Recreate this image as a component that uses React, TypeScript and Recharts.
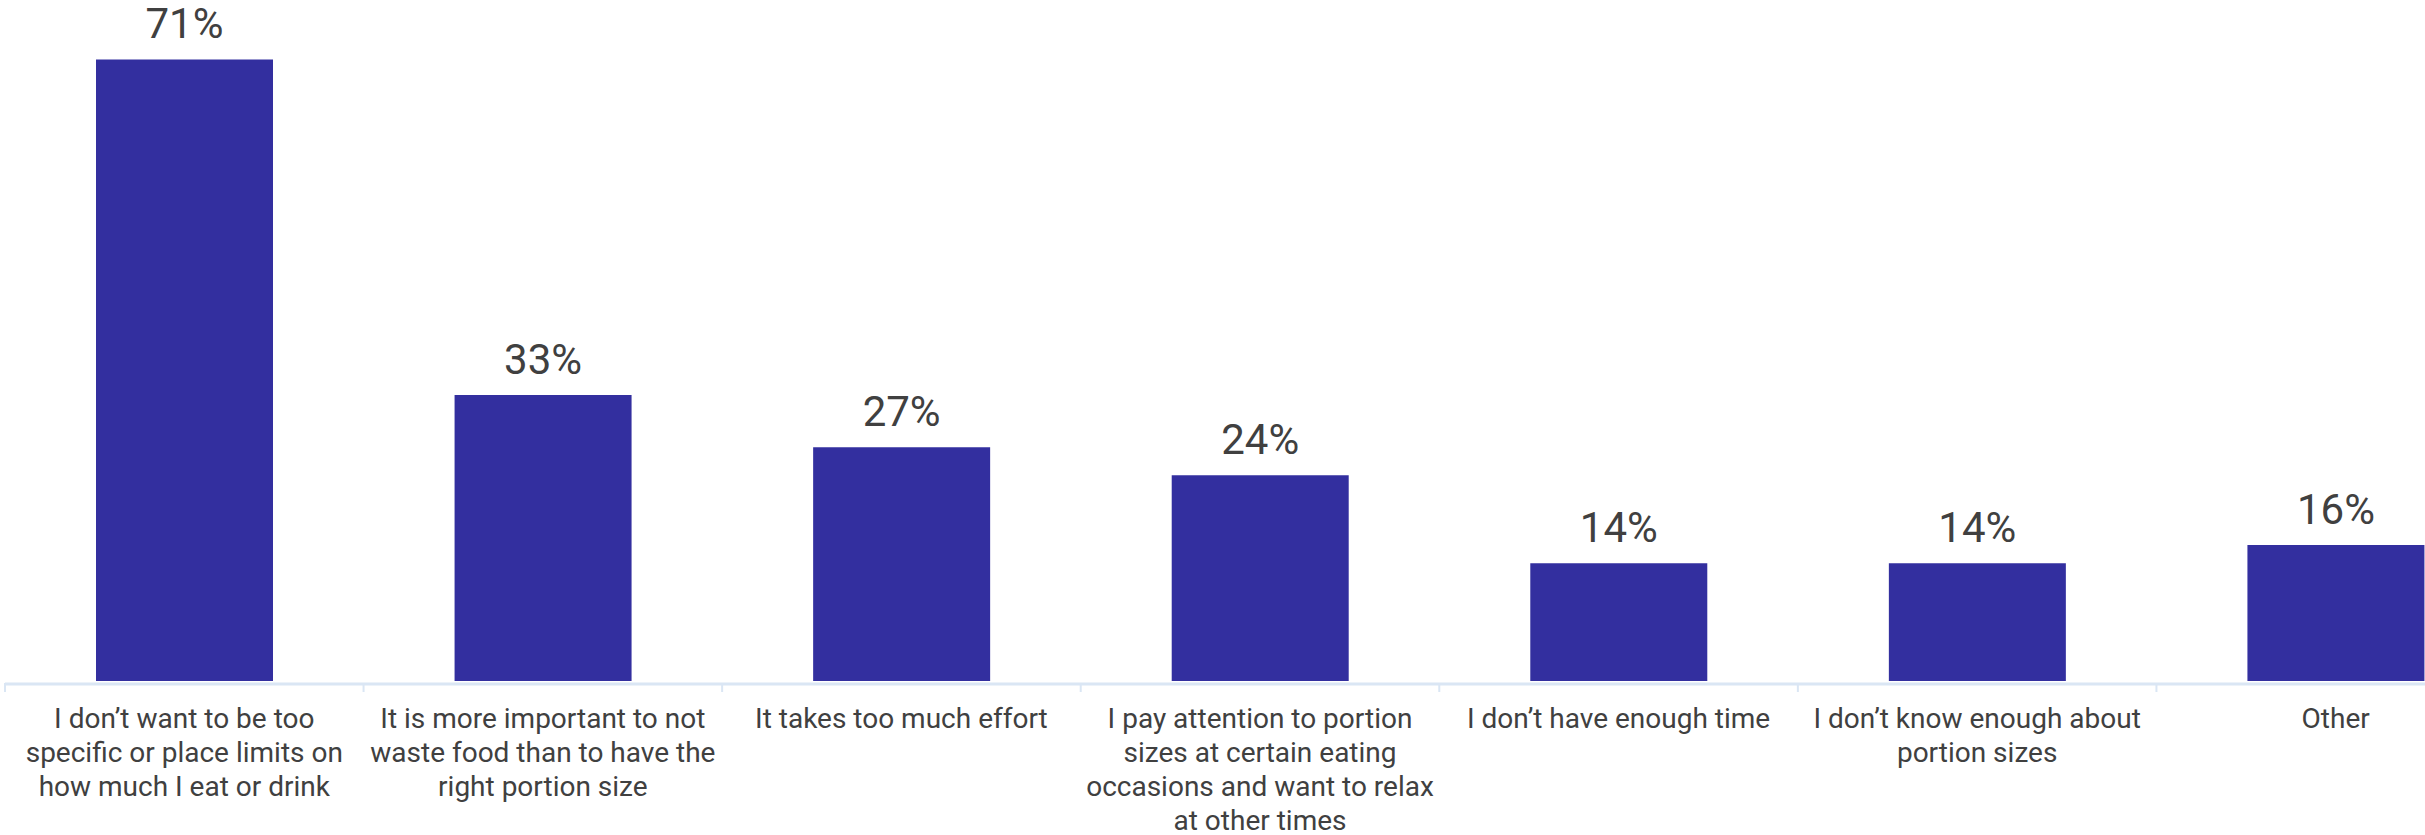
import { BarChart, Bar, XAxis, YAxis, LabelList } from 'recharts';

const categories = [
  "I don\u2019t want to be too\nspecific or place limits on\nhow much I eat or drink",
  'It is more important to not\nwaste food than to have the\nright portion size',
  'It takes too much effort',
  'I pay attention to portion\nsizes at certain eating\noccasions and want to relax\nat other times',
  "I don\u2019t have enough time",
  "I don\u2019t know enough about\nportion sizes",
  'Other',
];
// share of respondents, %
const shares = [71.3, 32.8, 26.8, 23.6, 13.5, 13.5, 15.6];

const data = categories.map((name, i) => ({ name, value: shares[i] }));

const CHART_W = 2515;
const CHART_H = 835;
const MARGIN = { top: 1, right: 0, bottom: 0, left: 5 };
const BAND = (CHART_W - MARGIN.left - MARGIN.right) / categories.length;
const TEXT = '#404040';
const AXIS = '#DAE6F4';

function CategoryTick(props: any) {
  const { x, y, payload, index } = props;
  const lines = String(payload.value).split('\n');
  return (
    <g>
      <line x1={x - BAND / 2} x2={x - BAND / 2} y1={y + 2} y2={y + 11} stroke={AXIS} strokeWidth={2} />
      {index === categories.length - 1 && (
        <line x1={x + BAND / 2} x2={x + BAND / 2} y1={y + 2} y2={y + 11} stroke={AXIS} strokeWidth={2} />
      )}
      <text x={x} y={y + 47} textAnchor="middle" fill={TEXT} fontSize={28} fontFamily="Roboto, sans-serif">
        {lines.map((l, i) => (
          <tspan key={i} x={x} dy={i === 0 ? 0 : 34}>{l}</tspan>
        ))}
      </text>
    </g>
  );
}

export default function App() {
  return (
    <div style={{ position: 'absolute', left: 0, top: 0, width: 2425, height: 835, overflow: 'hidden', background: '#fff' }}>
      <BarChart width={CHART_W} height={CHART_H} data={data} margin={MARGIN} barCategoryGap={91}>
        <XAxis
          dataKey="name"
          interval={0}
          height={154}
          tickSize={0}
          tickMargin={0}
          tickLine={false}
          axisLine={{ stroke: AXIS, strokeWidth: 3, transform: 'translate(0,3)' }}
          tick={<CategoryTick />}
        />
        <YAxis hide domain={[0, 78]} />
        <Bar dataKey="value" fill="#332F9F" isAnimationActive={false}>
          <LabelList
            dataKey="value"
            position="top"
            offset={21}
            formatter={(v: any) => `${Math.round(Number(v))}%`}
            fill={TEXT}
            fontSize={42}
            fontFamily="Roboto, sans-serif"
          />
        </Bar>
      </BarChart>
    </div>
  );
}
